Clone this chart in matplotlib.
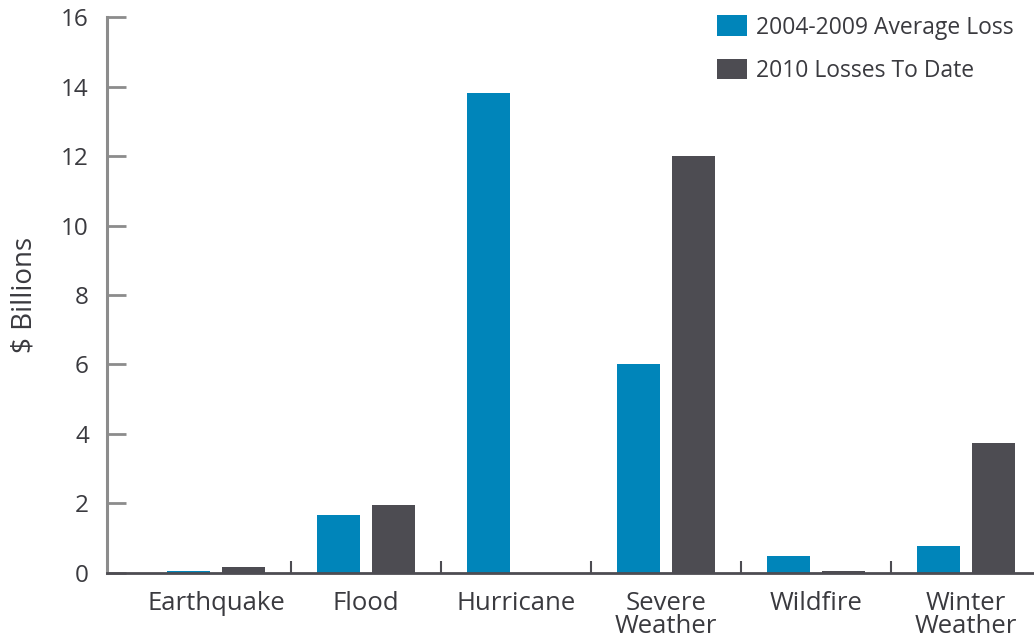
import matplotlib.pyplot as plt
import numpy as np

BLUE = '#0085ba'
DARK = '#4d4c52'
GRAY = '#8c8c8c'
TEXT = '#3a3a3f'

categories = ['Earthquake', 'Flood', 'Hurricane', 'Severe\nWeather', 'Wildfire', 'Winter\nWeather']
avg_loss = [0.05, 1.67, 13.8, 6.0, 0.49, 0.78]
losses_2010 = [0.18, 1.95, 0.0, 12.0, 0.06, 3.75]
series_names = ['2004-2009 Average Loss', '2010 Losses To Date']
yticks = [0, 2, 4, 6, 8, 10, 12, 14, 16]

plt.rcParams['font.family'] = ['Open Sans', 'DejaVu Sans']

fig = plt.figure(figsize=(10.34, 6.42), dpi=100)
ax = fig.add_axes([0.1035, 0.1075, 0.8965, 0.866])

x = np.arange(len(categories))
w = 0.287
off = 0.183
ax.bar(x - off, avg_loss, w, color=BLUE, label=series_names[0])
ax.bar(x + off, losses_2010, w, color=DARK, label=series_names[1])

ax.set_xlim(-0.727, 5.453)
ax.set_ylim(0, 16)
ax.set_yticks(yticks)

for s in ['top', 'right']:
    ax.spines[s].set_visible(False)
ax.spines['left'].set_color(GRAY)
ax.spines['left'].set_linewidth(2.2)
ax.spines['bottom'].set_color(DARK)
ax.spines['bottom'].set_linewidth(2.0)

ax.tick_params(axis='y', direction='in', length=14, width=2.0, color=GRAY,
               labelsize=17.5, labelcolor=TEXT, pad=13)
ax.set_xticks(x)
ax.set_xticklabels(categories, fontsize=18.5, color=TEXT, linespacing=0.88, va='top')
ax.tick_params(axis='x', length=0, pad=13)
ax.set_xticks(x[:-1] + 0.5, minor=True)
ax.tick_params(axis='x', which='minor', direction='in', length=9, width=1.5, color=DARK)

ax.set_ylabel('$ Billions', fontsize=20, color=TEXT, labelpad=16)

ax.legend(loc='upper right', bbox_to_anchor=(1.0, 1.04), frameon=False, fontsize=16.5,
          handlelength=1.27, handleheight=1.0, handletextpad=0.4, labelspacing=0.85,
          labelcolor=TEXT)

fig.savefig('out.png', dpi=100)
